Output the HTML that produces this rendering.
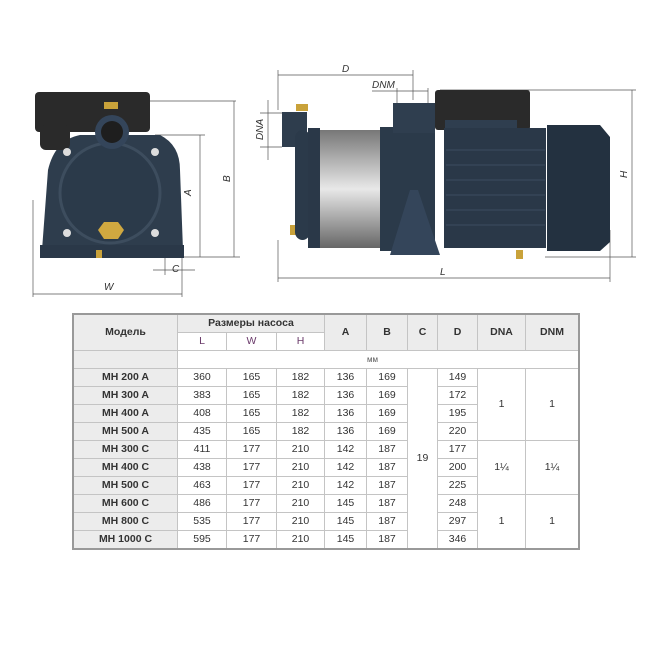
<!DOCTYPE html>
<html><head><meta charset="utf-8"><style>
body{margin:0;background:#fff;width:665px;height:668px;position:relative;overflow:hidden;font-family:"Liberation Sans",sans-serif}
svg{position:absolute;left:0;top:0}
table{position:absolute;left:72px;top:313px;border-collapse:collapse;font-size:10.5px;color:#333;border:2px solid #999}
td{border:1px solid #c4c4c4;text-align:center;padding:0;height:17px;line-height:17px}
.h{background:#ececec;font-weight:bold;color:#333}
.m{background:#ececec;font-weight:bold}
.s{background:#fff;color:#6a3a6a;font-weight:normal}
</style></head><body>
<svg width="665" height="310" viewBox="0 0 665 310">
<g stroke="#555" stroke-width="0.7" fill="none">
<!-- left view dims -->
<line x1="150" y1="101" x2="236" y2="101"/><line x1="155" y1="135" x2="205" y2="135"/>
<line x1="180" y1="257" x2="240" y2="257"/>
<line x1="200" y1="135" x2="200" y2="257"/><line x1="234" y1="101" x2="234" y2="257"/>
<line x1="33" y1="200" x2="33" y2="297"/><line x1="182" y1="257" x2="182" y2="297"/>
<line x1="33" y1="294" x2="182" y2="294"/>
<line x1="153" y1="270" x2="195" y2="270"/><line x1="165" y1="257" x2="165" y2="275"/>
<!-- right view dims -->
<line x1="278" y1="75" x2="413" y2="75"/><line x1="278" y1="70" x2="278" y2="110"/><line x1="413" y1="70" x2="413" y2="100"/>
<line x1="372" y1="91" x2="428" y2="91"/><line x1="397" y1="88" x2="397" y2="103"/><line x1="428" y1="88" x2="428" y2="103"/>
<line x1="260" y1="113" x2="282" y2="113"/><line x1="260" y1="147" x2="282" y2="147"/><line x1="268" y1="100" x2="268" y2="160"/>
<line x1="440" y1="90" x2="636" y2="90"/><line x1="545" y1="257" x2="636" y2="257"/><line x1="632" y1="90" x2="632" y2="257"/>
<line x1="278" y1="278" x2="610" y2="278"/><line x1="610" y1="230" x2="610" y2="282"/><line x1="278" y1="240" x2="278" y2="282"/>
</g>
<g font-family="Liberation Sans" font-style="italic" font-size="10" fill="#333">
<text x="191" y="196" transform="rotate(-90 191 196)">A</text>
<text x="230" y="182" transform="rotate(-90 230 182)">B</text>
<text x="172" y="272">C</text><text x="104" y="290">W</text>
<text x="342" y="72">D</text><text x="372" y="88">DNM</text>
<text x="263" y="140" transform="rotate(-90 263 140)">DNA</text>
<text x="627" y="178" transform="rotate(-90 627 178)">H</text>
<text x="440" y="275">L</text>
</g>
<!-- left pump -->
<path d="M42 250 L48 170 Q55 140 80 135 L160 135 Q180 145 180 170 L183 250 Z" fill="#2e3d4d"/>
<rect x="40" y="245" width="144" height="13" fill="#2a3848"/>
<rect x="35" y="92" width="115" height="40" rx="4" fill="#2a2a2a"/>
<rect x="40" y="125" width="30" height="25" rx="6" fill="#2a2a2a"/>
<circle cx="110" cy="193" r="50" fill="#2b3a4a" stroke="#3d4d5e" stroke-width="3"/>
<circle cx="112" cy="132" r="17" fill="#34455a"/><circle cx="112" cy="132" r="11" fill="#1e1e1e"/>
<rect x="104" y="102" width="14" height="7" fill="#c9a23a"/>
<polygon points="104,222 118,222 124,230 118,239 104,239 98,230" fill="#d0a840"/>
<rect x="96" y="250" width="6" height="8" fill="#c9a23a"/>
<g fill="#ddd"><circle cx="67" cy="152" r="4"/><circle cx="155" cy="152" r="4"/><circle cx="67" cy="233" r="4"/><circle cx="155" cy="233" r="4"/></g>
<!-- right pump -->
<rect x="282" y="112" width="25" height="35" fill="#2e3d4d"/>
<rect x="296" y="104" width="12" height="7" fill="#c9a23a"/>
<rect x="290" y="225" width="8" height="10" fill="#c9a23a"/>
<rect x="295" y="130" width="15" height="110" rx="8" fill="#2b3a4a"/>
<rect x="308" y="128" width="12" height="120" fill="#2a3848"/>
<defs><linearGradient id="g" x1="0" y1="0" x2="0" y2="1"><stop offset="0" stop-color="#777"/><stop offset=".5" stop-color="#e8e8e8"/><stop offset="1" stop-color="#666"/></linearGradient></defs>
<rect x="320" y="130" width="62" height="118" fill="url(#g)"/>
<rect x="380" y="127" width="55" height="124" fill="#2b3a4a"/>
<rect x="393" y="103" width="42" height="30" fill="#2f3e4f"/>
<polygon points="410,190 418,190 440,255 390,255" fill="#34455a"/>
<rect x="435" y="90" width="95" height="40" rx="3" fill="#2a2a2a"/>
<rect x="445" y="120" width="72" height="25" fill="#2f3e4f"/>
<rect x="444" y="128" width="102" height="120" fill="#2a3848"/>
<g stroke="#3c4d60" stroke-width="1"><line x1="446" y1="150" x2="545" y2="150"/><line x1="446" y1="165" x2="545" y2="165"/><line x1="446" y1="180" x2="545" y2="180"/><line x1="446" y1="195" x2="545" y2="195"/><line x1="446" y1="210" x2="545" y2="210"/><line x1="446" y1="225" x2="545" y2="225"/></g>
<path d="M547 125 L600 125 L610 137 L610 242 L600 251 L547 251 Z" fill="#233140"/>
<rect x="516" y="250" width="7" height="9" fill="#c9a23a"/>
</svg>
<table>
<tr><td class="h" rowspan="2" style="width:103px">Модель</td><td class="h" colspan="3">Размеры насоса</td><td class="h" rowspan="2" style="width:41px">A</td><td class="h" rowspan="2" style="width:40px">B</td><td class="h" rowspan="2" style="width:29px">C</td><td class="h" rowspan="2" style="width:39px">D</td><td class="h" rowspan="2" style="width:47px">DNA</td><td class="h" rowspan="2" style="width:52px">DNM</td></tr>
<tr><td class="s" style="width:48px">L</td><td class="s" style="width:49px">W</td><td class="s" style="width:47px">H</td></tr>
<tr><td class="m"></td><td colspan="9" style="text-align:left;padding-left:50px;font-size:8px;color:#555">&nbsp;</td></tr>
<tr><td class="m">MH 200 A</td><td>360</td><td>165</td><td>182</td><td>136</td><td>169</td><td rowspan="10">19</td><td>149</td><td rowspan="4">1</td><td rowspan="4">1</td></tr>
<tr><td class="m">MH 300 A</td><td>383</td><td>165</td><td>182</td><td>136</td><td>169</td><td>172</td></tr>
<tr><td class="m">MH 400 A</td><td>408</td><td>165</td><td>182</td><td>136</td><td>169</td><td>195</td></tr>
<tr><td class="m">MH 500 A</td><td>435</td><td>165</td><td>182</td><td>136</td><td>169</td><td>220</td></tr>
<tr><td class="m">MH 300 C</td><td>411</td><td>177</td><td>210</td><td>142</td><td>187</td><td>177</td><td rowspan="3">1¼</td><td rowspan="3">1¼</td></tr>
<tr><td class="m">MH 400 C</td><td>438</td><td>177</td><td>210</td><td>142</td><td>187</td><td>200</td></tr>
<tr><td class="m">MH 500 C</td><td>463</td><td>177</td><td>210</td><td>142</td><td>187</td><td>225</td></tr>
<tr><td class="m">MH 600 C</td><td>486</td><td>177</td><td>210</td><td>145</td><td>187</td><td>248</td><td rowspan="3">1</td><td rowspan="3">1</td></tr>
<tr><td class="m">MH 800 C</td><td>535</td><td>177</td><td>210</td><td>145</td><td>187</td><td>297</td></tr>
<tr><td class="m">MH 1000 C</td><td>595</td><td>177</td><td>210</td><td>145</td><td>187</td><td>346</td></tr>
</table>
<div style="position:absolute;left:367px;top:355px;font-size:8px;color:#555">мм</div>
</body></html>
